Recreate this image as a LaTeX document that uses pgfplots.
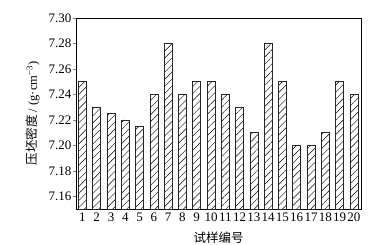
\documentclass[border=0pt]{standalone}
\usepackage{pgfplots}
\pgfplotsset{compat=1.18}
\usepackage{fontspec}
\setmainfont{Liberation Serif}
\newfontfamily\cjk{Noto Sans CJK SC}
\usetikzlibrary{patterns.meta}
\begin{document}
\begin{tikzpicture}
\useasboundingbox (-76pt,-35pt) rectangle (309pt,209pt);
\begin{axis}[
  at={(0,0)}, anchor=south west, scale only axis,
  width=285pt, height=191pt,
  xmin=0.55, xmax=20.5, ymin=7.15, ymax=7.30,
  ybar, bar width=8pt,
  xtick={1,...,20}, xtick style={draw=none},
  ytick={7.16,7.18,7.20,7.22,7.24,7.26,7.28,7.30},
  ytick pos=left, tick align=outside, major tick length=3pt,
  yticklabel style={/pgf/number format/fixed,/pgf/number format/precision=2,/pgf/number format/fixed zerofill, inner sep=1.5pt},
  /pgf/number format/assume math mode=true,
  tick label style={font=\fontsize{13}{14}\selectfont},
  label style={font=\fontsize{12.5}{14}\selectfont},
  xticklabel style={inner sep=1pt},
  xlabel={\cjk 试样编号},
  xlabel style={yshift=-5pt},
  ylabel={{\cjk 压坯密度} / (g·cm\textsuperscript{−3})},
  ylabel style={yshift=4pt},
  axis line style={line width=0.6pt},
]
\addplot[draw=black!85, line width=0.5pt, fill=white, postaction={pattern={Lines[angle=45,distance=5pt,line width=0.45pt]}}]
coordinates {(1,7.25)(2,7.23)(3,7.225)(4,7.22)(5,7.215)(6,7.24)(7,7.28)(8,7.24)(9,7.25)(10,7.25)
(11,7.24)(12,7.23)(13,7.21)(14,7.28)(15,7.25)(16,7.20)(17,7.20)(18,7.21)(19,7.25)(20,7.24)};
\end{axis}
\end{tikzpicture}
\end{document}
